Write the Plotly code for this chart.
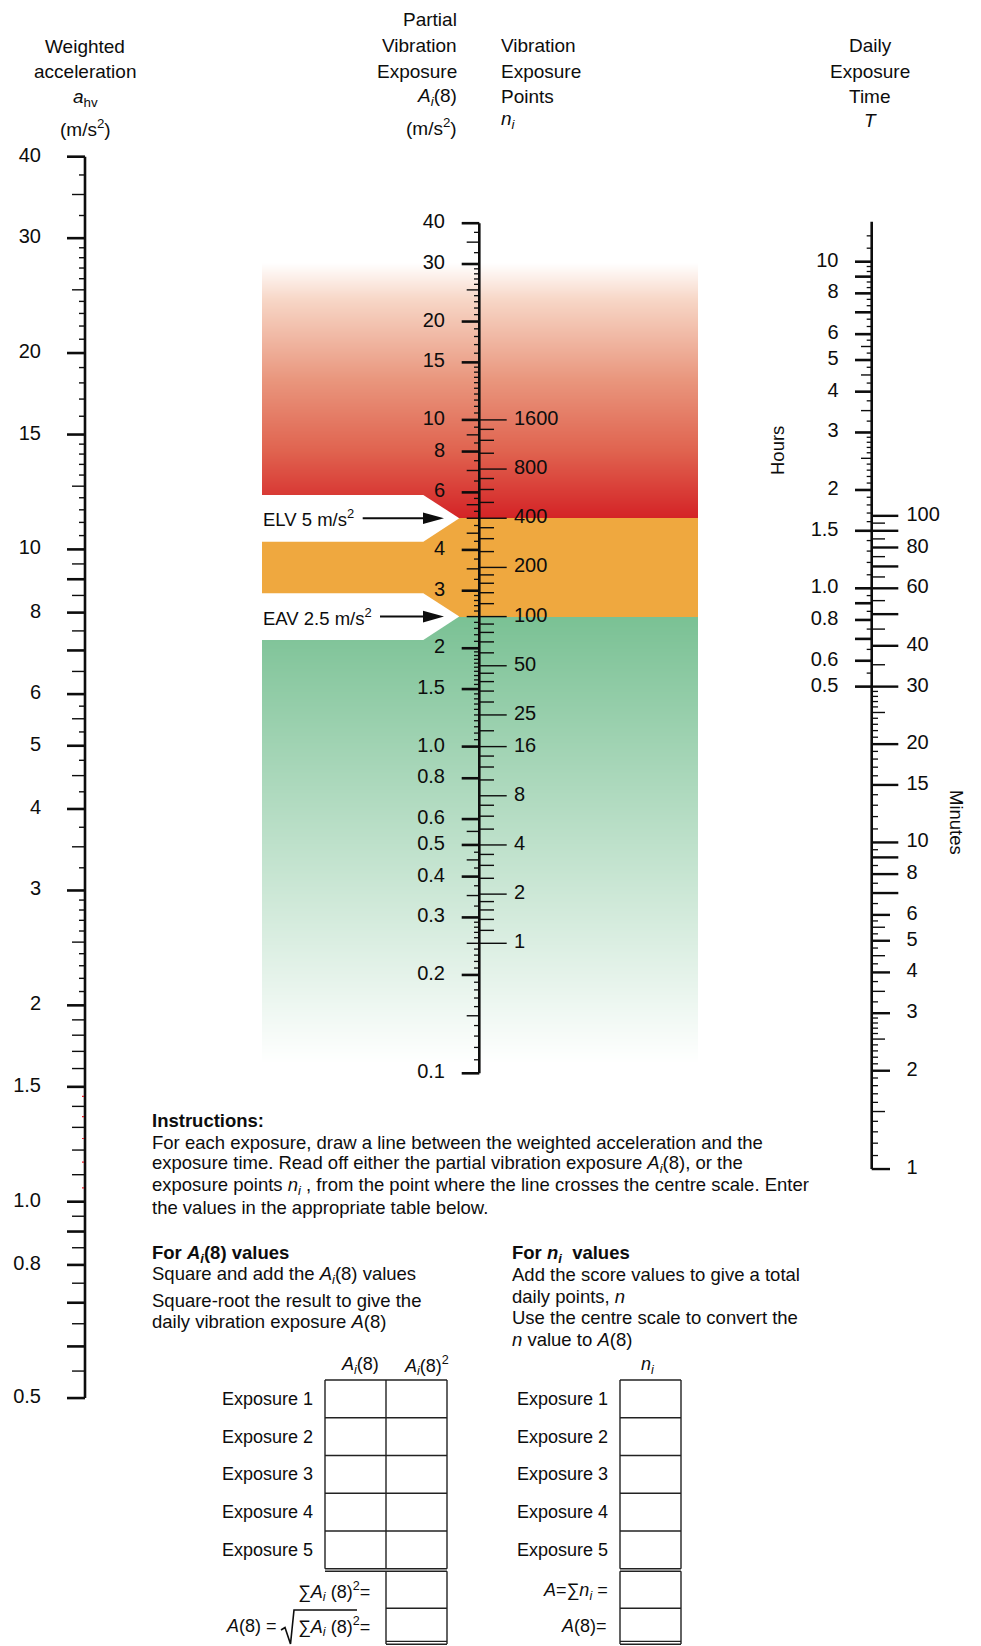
import math
import numpy as np
import plotly.graph_objects as go

# ---------------- data ----------------
# Weighted acceleration a_hv (m/s^2) - left scale
AHV_LABELS = [40, 30, 20, 15, 10, 8, 6, 5, 4, 3, 2, 1.5, 1.0, 0.8, 0.5]
AHV_LABEL_TEXT = ["40", "30", "20", "15", "10", "8", "6", "5", "4", "3", "2", "1.5", "1.0", "0.8", "0.5"]
AHV_LONG = [9, 7, 0.9, 0.7, 0.6]
AHV_MEDIUM = [35, 25, 12.5, 9.5, 8.5, 7.5, 6.5, 5.5, 4.5, 3.5, 2.5, 1.9, 1.8, 1.7, 1.6,
              1.4, 1.3, 1.2, 1.1, 0.95, 0.85, 0.75, 0.65, 0.55]
AHV_SHORT = [37.5, 32.5, 29, 28, 27, 26, 24, 23, 22, 21, 19, 18, 17, 16, 14.5, 14, 13.5, 13,
             12, 11.5, 11, 10.5, 5.75, 5.25, 4.75, 4.25, 3.75, 3.25, 2.9, 2.8, 2.7, 2.6,
             2.4, 2.3, 2.2, 2.1]
AHV_RED = [1.45, 1.35, 1.25, 1.15, 1.05]
AHV_EXTENT = [40, 0.5]

# Partial vibration exposure A_i(8) (m/s^2) - centre scale, left side
A8_LABELS = [40, 30, 20, 15, 10, 8, 6, 4, 3, 2, 1.5, 1.0, 0.8, 0.6, 0.5, 0.4, 0.3, 0.2, 0.1]
A8_LABEL_TEXT = ["40", "30", "20", "15", "10", "8", "6", "4", "3", "2", "1.5", "1.0", "0.8",
                 "0.6", "0.5", "0.4", "0.3", "0.2", "0.1"]
A8_MEDIUM = [35, 25, 9, 7, 5.5, 5, 4.5, 3.5, 2.5, 0.55, 0.45, 0.35, 0.25, 0.15]
A8_SHORT = [37.5, 32.5, 29, 28, 27, 26, 24, 23, 22, 21, 19, 18, 17, 16, 14.5, 14, 13.5, 13,
            12.5, 12, 11.5, 11, 10.5, 9.5, 8.5, 7.5, 6.5, 5.75, 5.25, 4.75, 4.25, 3.75,
            3.25, 2.9, 2.8, 2.7, 2.6, 2.4, 2.3, 2.2, 2.1, 1.95, 1.9, 1.85, 1.8, 1.75, 1.7,
            1.65, 1.6, 1.55, 1.45, 1.4, 1.35, 1.3, 1.25, 1.2, 1.15, 1.1, 1.05, 0.475, 0.425,
            0.375, 0.325, 0.29, 0.28, 0.27, 0.26, 0.24, 0.23, 0.22, 0.21, 0.19, 0.18, 0.17,
            0.16, 0.14, 0.13, 0.12, 0.11]
A8_EXTENT = [40, 0.1]

# Vibration exposure points n_i - centre scale, right side
N_LABELS = [1600, 800, 400, 200, 100, 50, 25, 16, 8, 4, 2, 1]
N_LABEL_TEXT = ["1600", "800", "400", "200", "100", "50", "25", "16", "8", "4", "2", "1"]
N_MINOR = [1400, 1200, 1000, 700, 600, 500, 350, 300, 250, 180, 160, 140, 120, 90, 80, 70,
           60, 45, 40, 35, 30, 20, 14, 12, 10, 7, 6, 5, 3.5, 3, 2.5, 1.8, 1.6, 1.4, 1.2]
POINTS_AT_1_MS2 = 16          # n = 16 * A(8)^2

# Daily exposure time T - hours (left side of right scale)
HOUR_LABELS = [10, 8, 6, 5, 4, 3, 2, 1.5, 1.0, 0.8, 0.6, 0.5]
HOUR_LABEL_TEXT = ["10", "8", "6", "5", "4", "3", "2", "1.5", "1.0", "0.8", "0.6", "0.5"]
HOUR_LONG = [9, 7, 0.9, 0.7]
HOUR_MEDIUM = [5.5, 4.5, 3.5, 2.5]
HOUR_SHORT = [12, 11, 9.667, 9.333, 8.667, 8.333, 7.667, 7.333, 6.667, 6.333, 5.75, 5.25,
              4.75, 4.25, 3.75, 3.25, 2.9, 2.8, 2.7, 2.6, 2.4, 2.3, 2.2, 2.1, 1.9, 1.8, 1.7,
              1.6, 1.4, 1.3, 1.2, 1.1, 0.95, 0.85, 0.75, 0.65, 0.55]
HOUR_EXTENT = [13.25, 1 / 60]

# Daily exposure time T - minutes (right side of right scale)
MIN_LABELS_BIG = [100, 80, 60, 40, 30, 20, 15, 10, 8]
MIN_LABELS_SMALL = [6, 5, 4, 3, 2, 1]
MIN_LONG = [90, 70, 50, 9, 7]
MIN_MEDIUM = [95, 85, 75, 65, 55, 45, 35, 25, 5.5, 4.5, 3.5, 2.5, 1.5]
MIN_SHORT = [29, 28, 27, 26, 24, 23, 22, 21, 19, 18, 17, 16, 14, 13, 12, 11, 9.5, 8.5, 7.5,
             6.5, 5.75, 5.25, 4.75, 4.25, 3.75, 3.25, 2.9, 2.8, 2.7, 2.6, 2.4, 2.3, 2.2,
             2.1, 1.9, 1.8, 1.7, 1.6, 1.4, 1.3, 1.2, 1.1]

ELV = 5.0
EAV = 2.5
LIMIT_TEXT = ["ELV 5 m/s<sup>2</sup>", "EAV 2.5 m/s<sup>2</sup>"]

EXPOSURE_ROWS = ["Exposure 1", "Exposure 2", "Exposure 3", "Exposure 4", "Exposure 5"]

INSTRUCTION_LINES = [
    "<b>Instructions:</b>",
    "For each exposure, draw a line between the weighted acceleration and the",
    "exposure time. Read off either the partial vibration exposure <i>A<sub>i</sub></i>(8), or the",
    "exposure points <i>n<sub>i</sub></i> , from the point where the line crosses the centre scale. Enter",
    "the values in the appropriate table below.",
]
LEFT_NOTE_LINES = [
    "<b>For <i>A<sub>i</sub></i>(8) values</b>",
    "Square and add the <i>A<sub>i</sub></i>(8) values",
    "Square-root the result to give the",
    "daily vibration exposure <i>A</i>(8)",
]
RIGHT_NOTE_LINES = [
    "<b>For <i>n<sub>i</sub></i>  values</b>",
    "Add the score values to give a total",
    "daily points, <i>n</i>",
    "Use the centre scale to convert the",
    "<i>n</i> value to <i>A</i>(8)",
]

# ---------------- layout / style ----------------
W, H = 981, 1646
OFF = 8            # page body margin: figure starts 8 px in from the window corner
FONT = "Liberation Sans, Arial, Helvetica, sans-serif"
INK = "#0d0d0d"
TICK_FS = 20

# page pixel of value 1 and pixels per decade for each log scale
CAL_AHV = (1201.7, 652.3)
CAL_A8 = (746.6, 326.7)
CAL_T = (588.3, 326.6)


def log_range(cal):
    a0, dec = cal
    return [(a0 - H) / dec, (a0 - OFF) / dec]


def to_px(v, cal):
    a0, dec = cal
    return a0 - dec * math.log10(v)


fig = go.Figure()

# ---------- coloured zone band (gradient) ----------
y_elv = to_px(ELV, CAL_A8)
y_eav = to_px(EAV, CAL_A8)
band_top, band_bot = 263, 1064
rows = np.arange(band_top, band_bot) + 0.5
red_stops_y = [band_top, 300, 380, 450, y_elv]
red_stops_c = [(255, 255, 255), (247, 214, 198), (233, 150, 125), (224, 100, 80), (212, 35, 38)]
orange = (239, 168, 63)
green_top, green_bot = (122, 193, 148), (255, 255, 255)
colors = []
for yy in rows:
    if yy < y_elv:
        c = tuple(int(round(np.interp(yy, red_stops_y, [s[k] for s in red_stops_c]))) for k in range(3))
    elif yy < y_eav:
        c = orange
    else:
        t = (yy - y_eav) / (band_bot - y_eav)
        c = tuple(int(round(green_top[k] + (green_bot[k] - green_top[k]) * t)) for k in range(3))
    colors.append(c)
n_rows = len(rows)
zvals = [[i / (n_rows - 1)] for i in range(n_rows)]
cscale = [[i / (n_rows - 1), "rgb(%d,%d,%d)" % colors[i]] for i in range(n_rows)]
band_x0, band_x1 = 262, 698
fig.add_trace(go.Heatmap(z=zvals, x0=(band_x0 + band_x1) / 2, dx=band_x1 - band_x0,
                         y0=band_top + 0.5, dy=1, colorscale=cscale, zmin=0, zmax=1,
                         showscale=False, hoverinfo="skip", xaxis="x", yaxis="y"))


def add_ticks(vals, xa, xb, yaxis, width, color=INK, transform=None):
    xs, ys = [], []
    for v in vals:
        vv = transform(v) if transform else v
        xs += [xa, xb, None]
        ys += [vv, vv, None]
    fig.add_trace(go.Scatter(x=xs, y=ys, yaxis=yaxis, mode="lines",
                             line=dict(color=color, width=width),
                             hoverinfo="skip", showlegend=False))


def add_axis(extent, x, yaxis, width=2.6, transform=None):
    ys = [transform(v) if transform else v for v in extent]
    fig.add_trace(go.Scatter(x=[x, x], y=ys, yaxis=yaxis, mode="lines",
                             line=dict(color=INK, width=width),
                             hoverinfo="skip", showlegend=False))


def add_labels(vals, texts, x, yaxis, pos, transform=None, size=TICK_FS):
    ys = [transform(v) if transform else v for v in vals]
    fig.add_trace(go.Scatter(x=[x] * len(vals), y=ys, yaxis=yaxis, mode="text", text=texts,
                             textposition=pos, cliponaxis=False,
                             textfont=dict(size=size, family=FONT, color=INK),
                             hoverinfo="skip", showlegend=False))


# ---------- left scale: a_hv ----------
XL = 85
add_axis(AHV_EXTENT, XL, "y2")
add_ticks(AHV_LABELS + AHV_LONG, 67, XL, "y2", 2.6)
add_ticks(AHV_MEDIUM, 72, XL, "y2", 1.4)
add_ticks(AHV_SHORT, 79, XL, "y2", 1.4)
add_ticks(AHV_RED, 82, XL - 1, "y2", 1.2, color="#e8202a")
add_labels(AHV_LABELS, AHV_LABEL_TEXT, 41, "y2", "middle left")

# ---------- centre scale: A(8) and n ----------
XC = 479.3
a_from_n = lambda n: math.sqrt(n / POINTS_AT_1_MS2)
add_axis(A8_EXTENT, XC, "y3")
add_ticks(A8_LABELS, 461.7, XC, "y3", 2.6)
add_ticks(A8_MEDIUM, 466.7, XC, "y3", 1.4)
add_ticks(A8_SHORT, 474, XC, "y3", 1.3)
add_ticks(N_LABELS, XC, 506.7, "y3", 1.4, transform=a_from_n)
add_ticks(N_MINOR, XC, 494, "y3", 1.4, transform=a_from_n)
add_labels(A8_LABELS, A8_LABEL_TEXT, 445, "y3", "middle left")
add_labels(N_LABELS, N_LABEL_TEXT, 514, "y3", "middle right", transform=a_from_n)

# ---------- right scale: T ----------
XR = 871.7
h_from_min = lambda m: m / 60.0
add_axis(HOUR_EXTENT, XR, "y4")
add_ticks(HOUR_LABELS + HOUR_LONG, 855, XR, "y4", 2.6)
add_ticks(HOUR_MEDIUM, 861, XR, "y4", 1.4)
add_ticks(HOUR_SHORT, 866.7, XR, "y4", 1.3)
add_ticks(MIN_LABELS_BIG + MIN_LONG, XR, 898.3, "y4", 2.4, transform=h_from_min)
add_ticks(MIN_LABELS_SMALL, XR, 890, "y4", 2.4, transform=h_from_min)
add_ticks(MIN_MEDIUM, XR, 885, "y4", 1.4, transform=h_from_min)
add_ticks(MIN_SHORT, XR, 878, "y4", 1.3, transform=h_from_min)
add_labels(HOUR_LABELS, HOUR_LABEL_TEXT, 838.5, "y4", "middle left")
add_labels(MIN_LABELS_BIG + MIN_LABELS_SMALL, [str(v) for v in MIN_LABELS_BIG + MIN_LABELS_SMALL],
           906.5, "y4", "middle right", transform=h_from_min)

# ---------- annotations ----------
annotations = []


def txt(x, y, s, size=18, xa="center", angle=0):
    annotations.append(dict(x=x, y=y, xref="x", yref="y", text=s, showarrow=False,
                            xanchor=xa, yanchor="middle", textangle=angle,
                            font=dict(size=size, family=FONT, color=INK)))


HFS = 19
for y, s in zip([46.7, 71.7, 98.3, 128.3],
                ["Weighted", "acceleration", "<i>a</i><sub>hv</sub>", "(m/s<sup>2</sup>)"]):
    txt(85, y, s, HFS)
for y, s in zip([19.3, 45.7, 71, 96.7, 126.7],
                ["Partial", "Vibration", "Exposure", "<i>A<sub>i</sub></i>(8)", "(m/s<sup>2</sup>)"]):
    txt(458.5, y, s, HFS, xa="right")
for y, s in zip([45.7, 71, 96.7, 120], ["Vibration", "Exposure", "Points", "<i>n<sub>i</sub></i>"]):
    txt(499, y, s, HFS, xa="left")
for y, s in zip([45.7, 71, 96.7, 120], ["Daily", "Exposure", "Time", "<i>T</i>"]):
    txt(870, y, s, HFS)
txt(777, 451, "Hours", 18.5, angle=-90)
txt(957, 822, "Minutes", 18.5, angle=90)

# limit pointers
shapes = []
for lim, label, arrow_start in zip([ELV, EAV], LIMIT_TEXT, [362.7, 380]):
    yp = to_px(lim, CAL_A8)
    shapes.append(dict(type="path", xref="x", yref="y", layer="above",
                       path="M %f,%f L %f,%f L %f,%f L %f,%f L %f,%f Z" % (
                           band_x0, yp - 23.3, 423.3, yp - 23.3, 459.3, yp, 423.3, yp + 23.4,
                           band_x0, yp + 23.4),
                       fillcolor="white", line=dict(width=0)))
    shapes.append(dict(type="line", xref="x", yref="y", layer="above", x0=arrow_start, x1=426,
                       y0=yp, y1=yp, line=dict(color=INK, width=2)))
    shapes.append(dict(type="path", xref="x", yref="y", layer="above",
                       path="M 423,%f L 444,%f L 423,%f Z" % (yp - 5.8, yp, yp + 5.8),
                       fillcolor=INK, line=dict(width=0)))
    txt(260.5, yp, label, 18.5, xa="left")

# instructions
IFS = 18.5
for y, s in zip([1120.7, 1142.7, 1164, 1186, 1207.3], INSTRUCTION_LINES):
    txt(149.5, y, s, IFS, xa="left")
for y, s in zip([1254, 1274.7, 1300.7, 1321.3], LEFT_NOTE_LINES):
    txt(149.5, y, s, IFS, xa="left")
for y, s in zip([1254, 1274.7, 1296.7, 1317.3, 1339.3], RIGHT_NOTE_LINES):
    txt(510, y, s, IFS, xa="left")

# tables
LINE = dict(color="#222222", width=1.4)
T_TOP, ROW_H = 1380, 37.74


def hline(xa, xb, y):
    shapes.append(dict(type="line", xref="x", yref="y", layer="above",
                       x0=xa, x1=xb, y0=y, y1=y, line=LINE))


def vline(x, ya, yb):
    shapes.append(dict(type="line", xref="x", yref="y", layer="above",
                       x0=x, x1=x, y0=ya, y1=yb, line=LINE))


n_r = len(EXPOSURE_ROWS)
t_bot = T_TOP + n_r * ROW_H
for cols, lab_x in [([325, 386, 447], 315), ([620, 681], 610)]:
    for i in range(n_r + 1):
        hline(cols[0], cols[-1], T_TOP + i * ROW_H)
    for cx in cols:
        vline(cx, T_TOP, t_bot)
    hline(cols[0], cols[-1], t_bot + 2.6)
    sx0, sx1 = cols[-2], cols[-1]
    vline(sx0, t_bot + 2.6, 1644)
    vline(sx1, t_bot + 2.6, 1644)
    hline(sx0, sx1, 1608.3)
    hline(sx0, sx1, 1641.4)
    hline(sx0, sx1, 1644.2)
    for i, lab in enumerate(EXPOSURE_ROWS):
        txt(lab_x, T_TOP + (i + 0.5) * ROW_H, lab, 18, xa="right")

txt(360, 1365, "<i>A<sub>i</sub></i>(8)", 18)
txt(426, 1365, "<i>A<sub>i</sub></i>(8)<sup>2</sup>", 18)
txt(648, 1365, "<i>n<sub>i</sub></i>", 18)
txt(372, 1591.7, "∑<i>A<sub>i</sub></i> (8)<sup>2</sup>=", 18, xa="right")
txt(372, 1626, "∑<i>A<sub>i</sub></i> (8)<sup>2</sup>=", 18, xa="right")
txt(279, 1626, "<i>A</i>(8) =", 18, xa="right")
shapes.append(dict(type="path", xref="x", yref="y", layer="above",
                   path="M 281,1630 L 285,1627.5 L 290.5,1644 L 294,1610 L 357,1610",
                   line=dict(color=INK, width=1.6)))
txt(610, 1591.7, "<i>A</i>=∑<i>n<sub>i</sub></i> =", 18, xa="right")
txt(609, 1626, "<i>A</i>(8)=", 18, xa="right")

fig.update_layout(
    width=W - OFF, height=H - OFF, margin=dict(l=0, r=0, t=0, b=0),
    paper_bgcolor="white", plot_bgcolor="white", showlegend=False,
    xaxis=dict(range=[OFF, W], visible=False, fixedrange=True),
    yaxis=dict(range=[H, OFF], visible=False, fixedrange=True),
    yaxis2=dict(type="log", range=log_range(CAL_AHV), overlaying="y", visible=False, fixedrange=True),
    yaxis3=dict(type="log", range=log_range(CAL_A8), overlaying="y", visible=False, fixedrange=True),
    yaxis4=dict(type="log", range=log_range(CAL_T), overlaying="y", visible=False, fixedrange=True),
    annotations=annotations, shapes=shapes,
)

fig.write_html("out.html")
